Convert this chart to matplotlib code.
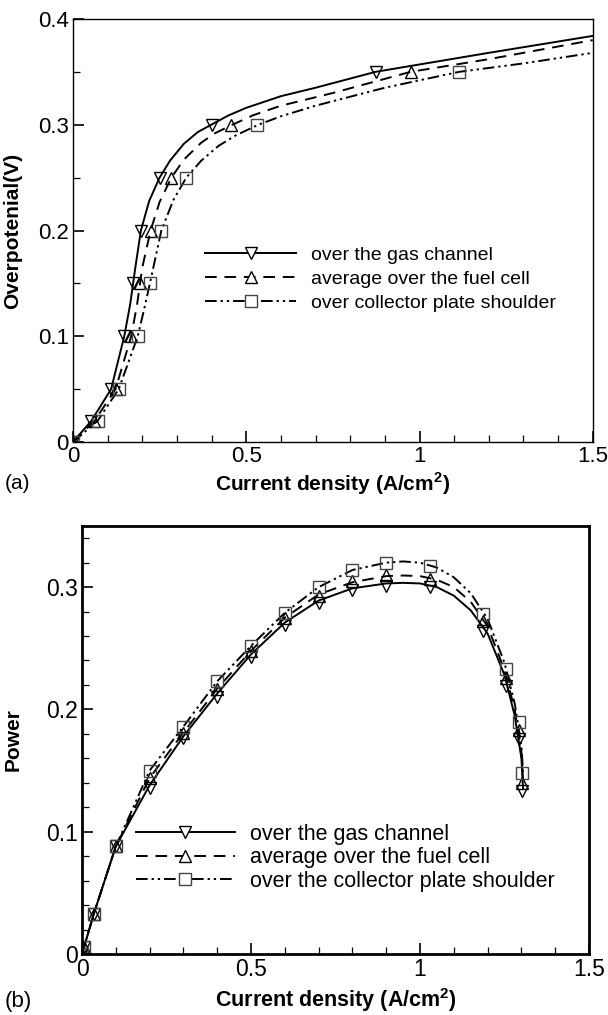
import matplotlib
matplotlib.use('Agg')
import matplotlib.pyplot as plt
from matplotlib.ticker import MultipleLocator, FuncFormatter

plt.rcParams['font.family'] = ['Liberation Sans', 'DejaVu Sans']

# ---- panel (a): overpotential vs current density ----
# marker positions (x = current density, y = overpotential)
a_gas_x = [0.0, 0.053, 0.110, 0.148, 0.174, 0.196, 0.250, 0.400, 0.873]
a_fuel_x = [0.0, 0.062, 0.123, 0.168, 0.193, 0.224, 0.284, 0.457, 0.974]
a_shoulder_x = [0.0, 0.071, 0.132, 0.187, 0.222, 0.255, 0.327, 0.532, 1.114]
a_marker_y = [0.0, 0.02, 0.05, 0.10, 0.15, 0.20, 0.25, 0.30, 0.35]

# curves
a_gas_line_x = [0.0, 0.053, 0.110, 0.148, 0.165, 0.180, 0.196, 0.22, 0.250, 0.28, 0.32, 0.36, 0.41, 0.45, 0.5, 0.6, 0.7, 0.873, 1.0, 1.2, 1.5]
a_gas_line_y = [0.0, 0.02, 0.05, 0.10, 0.13, 0.165, 0.20, 0.228, 0.25, 0.266, 0.282, 0.293, 0.302, 0.309, 0.316, 0.327, 0.335, 0.35, 0.357, 0.368, 0.384]
a_fuel_line_x = [0.0, 0.062, 0.123, 0.168, 0.185, 0.20, 0.224, 0.25, 0.284, 0.32, 0.37, 0.41, 0.46, 0.52, 0.6, 0.75, 0.974, 1.2, 1.5]
a_fuel_line_y = [0.0, 0.02, 0.05, 0.10, 0.13, 0.165, 0.20, 0.227, 0.25, 0.267, 0.283, 0.292, 0.300, 0.309, 0.318, 0.330, 0.35, 0.362, 0.380]
a_shoulder_line_x = [0.0, 0.071, 0.132, 0.187, 0.205, 0.222, 0.255, 0.29, 0.327, 0.37, 0.42, 0.47, 0.535, 0.6, 0.7, 0.9, 1.114, 1.3, 1.5]
a_shoulder_line_y = [0.0, 0.02, 0.05, 0.10, 0.125, 0.15, 0.20, 0.229, 0.25, 0.266, 0.280, 0.290, 0.300, 0.308, 0.318, 0.335, 0.35, 0.358, 0.368]

# ---- panel (b): power vs current density ----
b_x = [0.0, 0.005, 0.035, 0.10, 0.20, 0.30, 0.40, 0.50, 0.60, 0.70, 0.80, 0.90, 1.03, 1.185, 1.255, 1.293, 1.303]
b_gas_y = [0.0, 0.006, 0.033, 0.088, 0.136, 0.177, 0.210, 0.243, 0.269, 0.287, 0.298, 0.301, 0.300, 0.264, 0.219, 0.176, 0.133]
b_fuel_y = [0.0, 0.006, 0.033, 0.088, 0.144, 0.181, 0.217, 0.248, 0.275, 0.293, 0.305, 0.310, 0.307, 0.272, 0.226, 0.183, 0.140]
b_shoulder_y = [0.0, 0.006, 0.033, 0.088, 0.150, 0.186, 0.223, 0.252, 0.279, 0.300, 0.314, 0.320, 0.317, 0.278, 0.233, 0.190, 0.148]

b_line_x = [0.0, 0.035, 0.10, 0.20, 0.30, 0.40, 0.50, 0.60, 0.70, 0.80, 0.90, 0.95, 1.0, 1.05, 1.10, 1.15, 1.20, 1.25, 1.28, 1.30, 1.305]
b_gas_line = [0.0, 0.033, 0.088, 0.138, 0.178, 0.213, 0.245, 0.271, 0.289, 0.299, 0.303, 0.3035, 0.303, 0.300, 0.293, 0.281, 0.262, 0.228, 0.195, 0.160, 0.135]
b_fuel_line = [0.0, 0.033, 0.088, 0.144, 0.181, 0.217, 0.248, 0.275, 0.294, 0.304, 0.309, 0.3095, 0.309, 0.306, 0.300, 0.288, 0.268, 0.232, 0.200, 0.165, 0.140]
b_shoulder_line = [0.0, 0.033, 0.088, 0.150, 0.186, 0.223, 0.252, 0.279, 0.300, 0.314, 0.320, 0.321, 0.320, 0.316, 0.308, 0.295, 0.274, 0.238, 0.205, 0.170, 0.148]

a_labels = ['over the gas channel', 'average over the fuel cell', 'over collector plate shoulder']
b_labels = ['over the gas channel', 'average over the fuel cell', 'over the collector plate shoulder']

dashdotdot = (0, (6, 2, 1.2, 2, 1.2, 2))
styles = [('-', 'v', 'black'), ((0, (6, 4)), '^', 'black'), (dashdotdot, 's', '#444444')]

fig = plt.figure(figsize=(6.08, 10.15), dpi=100)
ax1 = fig.add_axes([0.120, 0.5645, 0.855, 0.4168])
ax2 = fig.add_axes([0.1349, 0.0601, 0.8339, 0.4217])

# panel (a)
a_lines = [(a_gas_line_x, a_gas_line_y), (a_fuel_line_x, a_fuel_line_y), (a_shoulder_line_x, a_shoulder_line_y)]
a_marks = [a_gas_x, a_fuel_x, a_shoulder_x]
handles = []
for (lx, ly), mx, (ls, mk, mc), lab in zip(a_lines, a_marks, styles, a_labels):
    ax1.plot(lx, ly, color='black', linestyle=ls, linewidth=1.4)
    ax1.plot(mx, a_marker_y, linestyle='none', marker=mk, markersize=9,
             markerfacecolor='none', markeredgecolor=mc, markeredgewidth=1.0)
    h, = ax1.plot([], [], color='black', linestyle=ls, linewidth=1.4, marker=mk, markersize=9,
                  markerfacecolor='white', markeredgecolor=mc, markeredgewidth=1.0, label=lab)
    handles.append(h)
ax1.legend(handles=handles, loc='upper left', bbox_to_anchor=(0.235, 0.485), frameon=False,
           fontsize=14, handlelength=4.7, handletextpad=0.75, labelspacing=0.32, borderpad=0)

ax1.set_xlim(0, 1.5)
ax1.set_ylim(0, 0.4)
ax1.xaxis.set_major_locator(MultipleLocator(0.5))
ax1.xaxis.set_minor_locator(MultipleLocator(0.1))
ax1.yaxis.set_major_locator(MultipleLocator(0.1))
ax1.yaxis.set_minor_locator(MultipleLocator(0.05))
ax1.set_xlabel('Current density (A/cm$^\\mathregular{2}$)', fontsize=15, fontweight='bold')
ax1.set_ylabel('Overpotenial(V)', fontsize=15, fontweight='bold')
ax1.xaxis.set_label_coords(0.5, -0.066)
ax1.yaxis.set_label_coords(-0.098, 0.5)
for sp in ax1.spines.values():
    sp.set_linewidth(1.0)
fig.text(0.008, 0.524, '(a)', fontsize=15, va='center', ha='left')

# panel (b)
b_lines = [b_gas_line, b_fuel_line, b_shoulder_line]
b_marks = [b_gas_y, b_fuel_y, b_shoulder_y]
handles = []
for ly, my, (ls, mk, mc), lab in zip(b_lines, b_marks, styles, b_labels):
    ax2.plot(b_line_x, ly, color='black', linestyle=ls, linewidth=1.4)
    ax2.plot(b_x, my, linestyle='none', marker=mk, markersize=9,
             markerfacecolor='none', markeredgecolor=mc, markeredgewidth=1.0)
    h, = ax2.plot([], [], color='black', linestyle=ls, linewidth=1.4, marker=mk, markersize=9,
                  markerfacecolor='white', markeredgecolor=mc, markeredgewidth=1.0, label=lab)
    handles.append(h)
ax2.legend(handles=handles, loc='upper left', bbox_to_anchor=(0.085, 0.33), frameon=False,
           fontsize=15.5, handlelength=4.6, handletextpad=0.7, labelspacing=0.12, borderpad=0)

ax2.set_xlim(0, 1.5)
ax2.set_ylim(0, 0.35)
ax2.xaxis.set_major_locator(MultipleLocator(0.5))
ax2.xaxis.set_minor_locator(MultipleLocator(0.1))
ax2.yaxis.set_major_locator(MultipleLocator(0.1))
ax2.yaxis.set_minor_locator(MultipleLocator(0.02))
ax2.set_xlabel('Current density (A/cm$^\\mathregular{2}$)', fontsize=15.5, fontweight='bold')
ax2.set_ylabel('Power', fontsize=15, fontweight='bold')
ax2.xaxis.set_label_coords(0.5, -0.074)
ax2.yaxis.set_label_coords(-0.118, 0.5)
for sp in ax2.spines.values():
    sp.set_linewidth(2.0)
fig.text(0.008, 0.0135, '(b)', fontsize=16, va='center', ha='left')

fmt = FuncFormatter(lambda v, p: '%g' % round(v, 3))
for ax, fs in ((ax1, 16), (ax2, 16.5)):
    ax.xaxis.set_major_formatter(fmt)
    ax.yaxis.set_major_formatter(fmt)
    ax.tick_params(which='both', direction='in', top=False, right=False, labelsize=fs, pad=3)
    ax.tick_params(which='major', length=8, width=1.2)
    ax.tick_params(which='minor', length=5, width=0.9)

fig.savefig('out.png', dpi=100)
